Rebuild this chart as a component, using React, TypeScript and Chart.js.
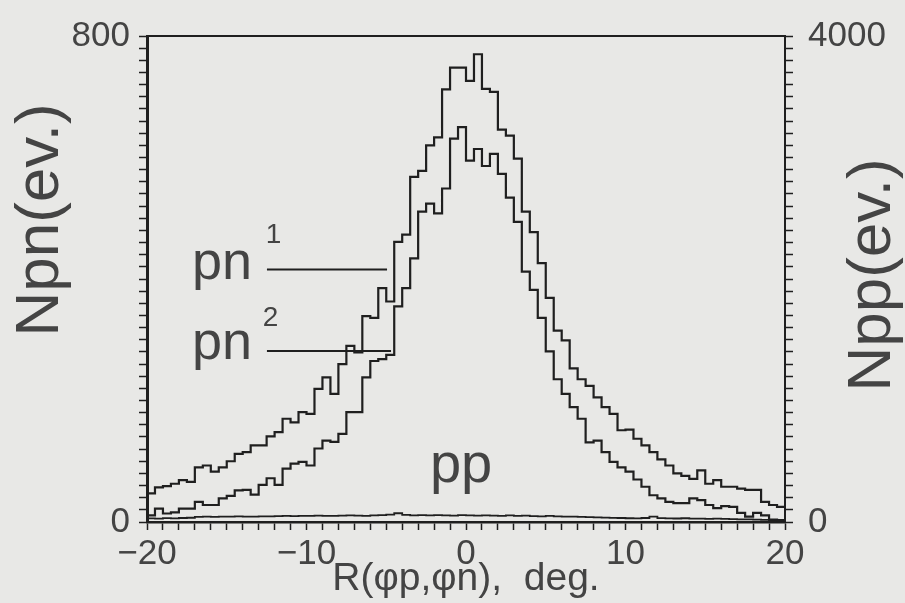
import React, { useEffect, useRef } from "react";
import { Chart, registerables } from "chart.js";

Chart.register(...registerables);

// ---- data ----
const X_MIN = -20;
const X_MAX = 20;
const BIN_WIDTH = 0.5;

// pn^1 counts per 0.5 deg bin, from -20 to 20 (left axis, Npn)
const PN1_COUNTS = [
  47, 57, 59, 63, 69, 66, 90, 93, 83, 90,
  100, 112, 115, 126, 126, 141, 148, 170, 164, 181,
  178, 219, 238, 211, 260, 290, 279, 339, 336, 385,
  363, 461, 473, 568, 578, 620, 633, 712, 748, 748,
  726, 770, 713, 708, 646, 636, 598, 511, 477, 426,
  369, 315, 299, 253, 235, 224, 205, 189, 178, 151,
  152, 137, 126, 115, 103, 93, 80, 76, 71, 85,
  63, 69, 58, 58, 55, 53, 53, 33, 28, 25,
];

// pn^2 counts per 0.5 deg bin (left axis, Npn)
const PN2_COUNTS = [
  11, 22, 14, 16, 22, 22, 33, 28, 28, 39,
  43, 52, 53, 45, 61, 72, 61, 88, 96, 99,
  93, 121, 134, 132, 145, 181, 181, 238, 265, 268,
  275, 355, 385, 434, 511, 524, 508, 549, 631, 650,
  595, 614, 586, 606, 573, 534, 494, 412, 382, 336,
  281, 235, 211, 189, 170, 131, 134, 115, 99, 90,
  83, 70, 58, 44, 39, 33, 31, 31, 39, 36,
  28, 23, 26, 25, 15, 9, 15, 11, 4, 3,
];

// pp counts per 0.5 deg bin (right axis, Npp)
const PP_COUNTS = [
  30, 28, 32, 30, 33, 35, 42, 44, 43, 45,
  44, 46, 45, 44, 47, 46, 48, 50, 49, 51,
  50, 52, 50, 51, 53, 55, 52, 51, 54, 56,
  60, 72, 58, 55, 56, 54, 57, 55, 53, 56,
  54, 52, 55, 53, 51, 54, 50, 52, 49, 47,
  50, 46, 44, 45, 42, 40, 38, 36, 34, 33,
  31, 30, 33, 45, 32, 30, 29, 31, 28, 27,
  26, 27, 25, 24, 22, 21, 20, 18, 16, 14,
];

const X_TICK_LABELS = [-20, -10, 0, 10, 20];
const LEFT_TICK_LABELS = [0, 800];
const RIGHT_TICK_LABELS = [0, 4000];

// ---- styles ----
const FONT = '"Liberation Sans", Arial, sans-serif';
const INK = "#1f1f1f";
const TEXT = "#444444";
const PAPER = "#e8e8e6";

// annotation placement (data coordinates)
const LABEL_POS = {
  pn1: { x: -17.18, y: 400.8 },
  pn1Sup: { x: -12.55, y: 460 },
  pn1Line: { x0: -12.48, x1: -4.95, y: 415.5 },
  pn2: { x: -17.18, y: 268.3 },
  pn2Sup: { x: -12.75, y: 322 },
  pn2Line: { x0: -12.48, x1: -4.7, y: 281.4 },
  pp: { x: -2.26, y: 65.4 },
};

function histPoints(counts: number[]) {
  const pts = counts.map((c, i) => ({ x: X_MIN + i * BIN_WIDTH, y: c }));
  pts.push({ x: X_MIN + counts.length * BIN_WIDTH, y: counts[counts.length - 1] });
  return pts;
}

const fmt = (v: number) => String(v).replace("-", "\u2212");

const paperPlugin = {
  id: "paper",
  beforeDraw(chart: any) {
    const { ctx, width, height } = chart;
    ctx.save();
    ctx.fillStyle = PAPER;
    ctx.fillRect(0, 0, width, height);
    ctx.restore();
  },
};

const annotatePlugin = {
  id: "annotate",
  afterDraw(chart: any) {
    const { ctx, chartArea } = chart;
    const xs = chart.scales.x;
    const ys = chart.scales.y;
    const px = (v: number) => xs.getPixelForValue(v);
    const py = (v: number) => ys.getPixelForValue(v);
    ctx.save();
    // top frame line
    ctx.strokeStyle = INK;
    ctx.lineWidth = 2;
    ctx.beginPath();
    ctx.moveTo(chartArea.left, chartArea.top);
    ctx.lineTo(chartArea.right, chartArea.top);
    ctx.stroke();

    // leader lines
    ctx.lineWidth = 2;
    ctx.beginPath();
    ctx.moveTo(px(LABEL_POS.pn1Line.x0), py(LABEL_POS.pn1Line.y));
    ctx.lineTo(px(LABEL_POS.pn1Line.x1), py(LABEL_POS.pn1Line.y));
    ctx.moveTo(px(LABEL_POS.pn2Line.x0), py(LABEL_POS.pn2Line.y));
    ctx.lineTo(px(LABEL_POS.pn2Line.x1), py(LABEL_POS.pn2Line.y));
    ctx.stroke();

    // labels
    ctx.fillStyle = TEXT;
    ctx.textAlign = "left";
    ctx.textBaseline = "alphabetic";
    ctx.font = `54px ${FONT}`;
    ctx.fillText("pn", px(LABEL_POS.pn1.x), py(LABEL_POS.pn1.y));
    ctx.fillText("pn", px(LABEL_POS.pn2.x), py(LABEL_POS.pn2.y));
    ctx.font = `56px ${FONT}`;
    ctx.fillText("pp", px(LABEL_POS.pp.x), py(LABEL_POS.pp.y));
    ctx.font = `28px ${FONT}`;
    ctx.fillText("1", px(LABEL_POS.pn1Sup.x), py(LABEL_POS.pn1Sup.y));
    ctx.fillText("2", px(LABEL_POS.pn2Sup.x), py(LABEL_POS.pn2Sup.y));

    // axis titles (both read bottom-to-top)
    ctx.font = `62px ${FONT}`;
    ctx.textAlign = "center";
    ctx.save();
    ctx.translate(58, 220);
    ctx.rotate(-Math.PI / 2);
    ctx.fillText("Npn(ev.)", 0, 0);
    ctx.restore();
    ctx.save();
    ctx.translate(890, 275);
    ctx.rotate(-Math.PI / 2);
    ctx.fillText("Npp(ev.)", 0, 0);
    ctx.restore();

    ctx.restore();
  },
};

export default function App() {
  const ref = useRef<HTMLCanvasElement>(null);

  useEffect(() => {
    document.body.style.margin = "0";
    document.body.style.background = PAPER;
    const lineDs = (label: string, counts: number[], axis: string, width: number) => ({
      label,
      data: histPoints(counts),
      yAxisID: axis,
      stepped: "before" as const,
      borderColor: INK,
      borderWidth: width,
      pointRadius: 0,
      fill: false,
    });
    const tickFont = { family: FONT, size: 35 };
    const chart = new Chart(ref.current as HTMLCanvasElement, {
      type: "line",
      data: {
        datasets: [
          lineDs("pn1", PN1_COUNTS, "y", 2.2),
          lineDs("pn2", PN2_COUNTS, "y", 2.2),
          lineDs("pp", PP_COUNTS, "y2", 1.8),
        ],
      },
      options: {
        responsive: false,
        animation: false,
        devicePixelRatio: 1,
        layout: { padding: { top: 33, left: 0, right: 0, bottom: 0 } },
        plugins: { legend: { display: false }, tooltip: { enabled: false } },
        scales: {
          x: {
            type: "linear",
            position: "bottom",
            min: X_MIN,
            max: X_MAX,
            ticks: {
              stepSize: 1,
              autoSkip: false,
              maxRotation: 0,
              padding: 3,
              color: TEXT,
              font: tickFont,
              callback: (v: any) => (X_TICK_LABELS.includes(Number(v)) ? fmt(Number(v)) : ""),
            },
            grid: { drawOnChartArea: false, drawTicks: true, tickLength: 8, tickWidth: 1.5, tickColor: INK },
            border: { display: true, color: INK, width: 2.5 },
            title: {
              display: true,
              text: "R(\u03c6p,\u03c6n),  deg.",
              color: TEXT,
              font: { family: FONT, size: 39 },
              padding: { top: 0, bottom: 0 },
            },
            afterFit: (s: any) => {
              s.height = 81;
            },
          },
          y: {
            type: "linear",
            position: "left",
            min: 0,
            max: 800,
            ticks: {
              stepSize: 20,
              autoSkip: false,
              padding: 9,
              color: TEXT,
              font: tickFont,
              callback: (v: any) => (LEFT_TICK_LABELS.includes(Number(v)) ? String(v) : ""),
            },
            grid: { drawOnChartArea: false, drawTicks: true, tickLength: 8, tickWidth: 1.5, tickColor: INK },
            border: { display: true, color: INK, width: 3 },
            afterFit: (s: any) => {
              s.width = 147;
            },
          },
          y2: {
            type: "linear",
            position: "right",
            min: 0,
            max: 4000,
            ticks: {
              stepSize: 100,
              autoSkip: false,
              padding: 15,
              color: TEXT,
              font: tickFont,
              callback: (v: any) => (RIGHT_TICK_LABELS.includes(Number(v)) ? String(v) : ""),
            },
            grid: { drawOnChartArea: false, drawTicks: true, tickLength: 8, tickWidth: 1.5, tickColor: INK },
            border: { display: true, color: INK, width: 2 },
            afterFit: (s: any) => {
              s.width = 120;
            },
          },
        },
      } as any,
      plugins: [paperPlugin, annotatePlugin],
    });
    return () => chart.destroy();
  }, []);

  return (
    <canvas
      ref={ref}
      width={905}
      height={603}
      style={{ display: "block", width: 905, height: 603 }}
    />
  );
}
